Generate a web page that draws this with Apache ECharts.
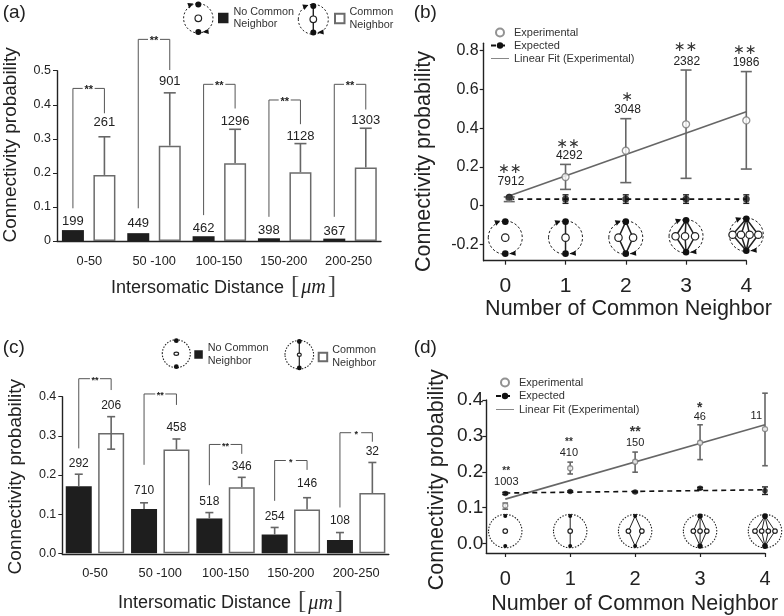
<!DOCTYPE html>
<html><head><meta charset="utf-8">
<style>html,body{margin:0;padding:0;background:#fff}#c{width:784px;height:616px}</style>
<script src="https://cdn.jsdelivr.net/npm/echarts@6/dist/echarts.min.js"></script>
</head><body><div id="c"></div>
<script>
// ---------- data ----------
const distanceBins = ['0-50','50 -100','100-150','150-200','200-250'];
const a_noCommon = [0.032,0.023,0.014,0.008,0.007];
const a_common = [0.194,0.280,0.228,0.202,0.216];
const a_commonErrTop = [0.306,0.435,0.328,0.286,0.331];
const a_noCommonN = ['199','449','462','398','367'];
const a_commonN = ['261','901','1296','1128','1303'];
const a_noCommonNY = [0.057,0.052,0.036,0.031,0.029];
const a_commonNY = [0.348,0.468,0.352,0.308,0.353];
const a_bracketTop = [0.448,0.592,0.460,0.414,0.460];
const a_bracketLeft = [0.096,0.096,0.076,0.071,0.071];
const a_bracketRight = [0.375,0.502,0.389,0.343,0.386];
const a_sig = ['**','**','**','**','**'];
const a_yTicks = [0,0.1,0.2,0.3,0.4,0.5];

const c_noCommon = [0.171,0.113,0.089,0.048,0.034];
const c_common = [0.307,0.265,0.169,0.112,0.154];
const c_noCommonErrTop = [0.202,0.129,0.104,0.066,0.053];
const c_commonErrTop = [0.349,0.292,0.194,0.142,0.232];
const c_commonErrLow = [0.266,null,null,null,null];
const c_noCommonN = ['292','710','518','254','108'];
const c_commonN = ['206','458','346','146','32'];
const c_noCommonNY = [0.230,0.159,0.132,0.094,0.083];
const c_commonNY = [0.377,0.321,0.220,0.179,0.259];
const c_bracketTop = [0.446,0.407,0.278,0.237,0.308];
const c_bracketLeft = [0.268,0.226,0.174,0.134,0.117];
const c_bracketRight = [0.417,0.379,0.254,0.213,0.285];
const c_sig = ['**','**','**','*','*'];
const c_yTicks = [0,0.1,0.2,0.3,0.4];

const neighbors = [0,1,2,3,4];
const b_experimental = [0.040,0.148,0.284,0.420,0.440];
const b_experimentalX = [0.066,1,2,3,4];
const b_expErrTop = [0.045,0.213,0.449,0.700,0.692];
const b_expErrLow = [0.021,0.084,0.119,0.141,0.189];
const b_expected = [0.043,0.034,0.034,0.034,0.034];
const b_expectedX = [0.066,1,2,3,4];
const b_expectedErr = [0,0.022,0.022,0.022,0.022];
const b_expectedLineX = [0.066,4];
const b_expectedLineY = [0.034,0.034];
const b_fitX = [0,4];
const b_fitY = [0.043,0.485];
const b_n = ['7912','4292','3048','2382','1986'];
const b_nY = [0.124,0.256,0.494,0.744,0.738];
const b_sig = ['∗∗','∗∗','∗','∗∗','∗∗'];
const b_yTicks = [-0.2,0,0.2,0.4,0.6,0.8];
const b_motifY = [-0.165,-0.165,-0.165,-0.158,-0.15];

const d_experimental = [0.106,0.210,0.228,0.281,0.319];
const d_experimentalX = [0,1,2,3,4];
const d_expErrTop = [0.113,0.227,0.255,0.331,0.419];
const d_expErrLow = [0.096,0.194,0.199,0.234,0.217];
const d_expected = [0.140,0.145,0.144,0.154,0.147];
const d_expectedErrTop = [0.143,0.147,0.146,0.157,0.158];
const d_expectedErrLow = [0.137,0.143,0.142,0.151,0.137];
const d_expectedLineX = [0,4];
const d_expectedLineY = [0.141,0.150];
const d_fitX = [0,4];
const d_fitY = [0.124,0.331];
const d_n = ['1003','410','150','46','11'];
const d_nY = [0.171,0.253,0.281,0.352,0.356];
const d_sig = ['**','**','**','*',''];
const d_yTicks = [0,0.1,0.2,0.3,0.4];
const d_motifY = [0.035,0.035,0.035,0.035,0.035];

// ---------- helpers ----------
const SANS = '"Liberation Sans", Arial, sans-serif';
const NARROW = '"Liberation Sans Narrow", "Liberation Sans", sans-serif';
const INK = '#222', GREY = '#666';
const option = {
  backgroundColor:'#fff', animation:false,
  textStyle:{fontFamily:SANS,color:INK},
  title:[], grid:[], xAxis:[], yAxis:[], legend:[], series:[], graphic:{elements:[]}
};
function txt(text,x,y,font,fill,extra){
  return {type:'text',silent:true,style:Object.assign({text,x,y,font,fill:fill||INK,align:'center',verticalAlign:'middle'},extra||{})};
}
function seg(x1,y1,x2,y2,stroke,lw){
  return {type:'line',silent:true,shape:{x1,y1,x2,y2},style:{stroke,lineWidth:lw,fill:null}};
}
function errorGlyph(x,yTop,yLow,yBase,cap,stroke,lw){
  const kids=[seg(x,yTop,x,yBase,stroke,lw),seg(x-cap,yTop,x+cap,yTop,stroke,lw)];
  if(yLow!=null) kids.push(seg(x-cap,yLow,x+cap,yLow,stroke,lw));
  return kids;
}
function motif(n,cx,cy,o){
  const kids=[];
  kids.push({type:'ellipse',silent:true,shape:{cx,cy,rx:o.rx||o.r,ry:o.r},style:{fill:null,stroke:INK,lineWidth:o.ringW||1,lineDash:o.dash}});
  const top=cy-o.h, bot=cy+o.h;
  const spread=(o.spread&&o.spread[n])||[0];
  if(n>0) spread.forEach(dx=>{
    kids.push({type:'polyline',silent:true,shape:{points:[[cx,top],[cx+dx,cy],[cx,bot]]},style:{fill:null,stroke:INK,lineWidth:o.lw}});
  });
  spread.forEach(dx=>{
    kids.push({type:'ellipse',silent:true,shape:{cx:cx+dx,cy,rx:o.open,ry:o.openY||o.open},style:{fill:'#fff',stroke:INK,lineWidth:o.openW||1.2}});
  });
  const bk=(o.black&&o.black[n])||o.blackR;
  kids.push({type:'circle',silent:true,shape:{cx,cy:top,r:bk},style:{fill:'#111'}});
  kids.push({type:'circle',silent:true,shape:{cx,cy:bot,r:bk},style:{fill:'#111'}});
  if(o.arrows){
    kids.push({type:'polygon',silent:true,shape:{points:[[cx-5,top-1],[cx-11,top-1.5],[cx-9,top+4]]},style:{fill:'#111'}});
    kids.push({type:'polygon',silent:true,shape:{points:[[cx+4,bot],[cx+10,bot-3],[cx+10.5,bot+2]]},style:{fill:'#111'}});
  }
  return kids;
}
function custom(gridIdx,rows,render,z){
  return {type:'custom',xAxisIndex:gridIdx,yAxisIndex:gridIdx,coordinateSystem:'cartesian2d',z:z||4,silent:true,clip:false,
    encode:{x:0,y:1},data:rows,renderItem:render};
}
// rotated axis name: positive shift moves it up, negative moves it down
function namePadding(shift){ return shift>=0 ? [0,0,0,shift] : [0,-shift,0,0]; }

function barPanel(p){
  const v=option.grid.length, q=v+1;
  const H=p.height, W=p.width;
  option.grid.push({left:p.left,top:p.top,width:W,height:H,containLabel:false});
  option.grid.push({left:p.left+p.shift,top:p.top,width:W,height:H,containLabel:false});
  option.xAxis.push({gridIndex:v,type:'category',data:distanceBins,boundaryGap:true,offset:p.axisDrop||0,
    axisLine:{lineStyle:{color:INK,width:1.4},onZero:false},axisTick:{length:p.tick,lineStyle:{color:'#444',width:1}},
    axisLabel:{fontSize:p.xFont,color:INK,margin:p.xMargin,interval:0},
    name:'Intersomatic Distance {b|[}{m|μm}{b|]}',nameLocation:'middle',nameGap:p.nameGap,
    nameTextStyle:{fontSize:18,color:INK,padding:[0,0,0,p.namePad],
      rich:{b:{fontFamily:'"Liberation Serif",serif',fontSize:25,color:'#444',padding:[0,2,3,2]},m:{fontFamily:'"Liberation Serif",serif',fontStyle:'italic',fontSize:20,color:INK}}},
    splitLine:{show:false}});
  option.yAxis.push({gridIndex:v,type:'value',min:0,max:p.max,
    axisLine:{show:true,onZero:false,lineStyle:{color:INK,width:1.4}},axisTick:{show:true,length:4,customValues:p.ticks,lineStyle:{color:INK,width:1}},
    axisLabel:{fontSize:12.5,color:INK,margin:p.yMargin,customValues:p.ticks,formatter:p.yFmt},splitLine:{show:false},
    name:'Connectivity probability',nameLocation:'middle',nameGap:p.yGap,
    nameTextStyle:{fontSize:p.yNameFont,color:INK,padding:namePadding(p.yNamePad)}});
  option.xAxis.push({gridIndex:q,type:'category',data:distanceBins,show:false,boundaryGap:true});
  option.yAxis.push({gridIndex:q,type:'value',min:0,max:p.max,show:false,splitLine:{show:false}});
  const bw=p.barW, gap=p.gapPx, dx=(bw+gap)/2;
  option.series.push({type:'bar',name:'No Common\nNeighbor',xAxisIndex:q,yAxisIndex:q,data:p.noCommon,barWidth:bw,barGap:(gap/bw*100)+'%',silent:true,
    itemStyle:{color:'#1e1e1e',borderColor:'#6b6b6b',borderWidth:0},z:2});
  option.series.push({type:'bar',name:'Common\nNeighbor',xAxisIndex:q,yAxisIndex:q,data:p.common,barWidth:bw,barGap:(gap/bw*100)+'%',silent:true,
    itemStyle:{color:'#fff',borderColor:'#6b6b6b',borderWidth:1.5},z:2});
  const rows=p.common.map((c,i)=>[i,c]);
  option.series.push(custom(q,rows,(params,api)=>{
    const i=params.dataIndex, cx=api.coord([i,0])[0], kids=[];
    const xB=cx-dx, xW=cx+dx, Y=val=>api.coord([i,val])[1];
    // error bars
    if(p.noCommonErrTop) kids.push(...errorGlyph(xB,Y(p.noCommonErrTop[i]),null,Y(p.noCommon[i]),p.cap,GREY,1.6));
    const low=p.commonErrLow?p.commonErrLow[i]:null;
    kids.push(...errorGlyph(xW,Y(p.commonErrTop[i]),low==null?null:Y(low),low==null?Y(p.common[i]):Y(low),p.cap,GREY,1.6));
    // counts
    kids.push(txt(p.noCommonN[i],xB,Y(p.noCommonNY[i]),p.countFont));
    kids.push(txt(p.commonN[i],xW,Y(p.commonNY[i]),p.countFont));
    // bracket
    const yt=Y(p.bracketTop[i]), mid=(xB+xW)/2, g=p.bracketGap;
    kids.push({type:'polyline',silent:true,shape:{points:[[xB,Y(p.bracketLeft[i])],[xB,yt],[mid-g,yt]]},style:{fill:null,stroke:'#555',lineWidth:1}});
    kids.push({type:'polyline',silent:true,shape:{points:[[mid+g,yt],[xW,yt],[xW,Y(p.bracketRight[i])]]},style:{fill:null,stroke:'#555',lineWidth:1}});
    kids.push(txt(p.sig[i],mid,yt+p.sigDrop,'bold '+p.sigFont+'px '+SANS));
    return {type:'group',children:kids};
  },5));
}

function linePanel(p){
  const v=option.grid.length;
  option.grid.push({left:p.left,top:p.top,width:p.width,height:p.height,containLabel:false});
  option.xAxis.push({gridIndex:v,type:'value',min:p.xMin,max:4,
    axisLine:{onZero:false,lineStyle:{color:INK,width:1.4}},axisTick:{length:4,customValues:neighbors,lineStyle:{color:INK,width:1.2}},
    axisLabel:{fontSize:p.xFont,color:INK,margin:p.xMargin,customValues:neighbors,formatter:String,hideOverlap:false},splitLine:{show:false},
    name:'Number of Common Neighbor',nameLocation:'middle',nameGap:p.nameGap,
    nameTextStyle:{fontSize:21.5,color:INK,padding:[0,0,0,p.namePad]}});
  option.yAxis.push({gridIndex:v,type:'value',min:p.yMin,max:p.yMax,
    axisLine:{show:true,onZero:false,lineStyle:{color:INK,width:1.4}},axisTick:{show:true,length:4,customValues:p.ticks,lineStyle:{color:INK,width:1.2}},
    axisLabel:{fontSize:p.yFont,color:INK,margin:p.yMargin,customValues:p.ticks,formatter:p.yFmt},splitLine:{show:false},
    name:'Connectivity probability',nameLocation:'middle',nameGap:p.yGap,
    nameTextStyle:{fontSize:21.5,color:INK,padding:namePadding(p.yNamePad)}});
  // motifs behind everything
  option.series.push(custom(v,p.motifY.map((y,i)=>[i,y]),(params,api)=>{
    const i=params.dataIndex, c=api.coord([i,p.motifY[i]]);
    return {type:'group',children:motif(i,c[0],c[1],p.motif)};
  },1));
  // error bars of experimental
  option.series.push(custom(v,p.exp.map((y,i)=>[p.expX[i],y]),(params,api)=>{
    const i=params.dataIndex, x=api.coord([p.expX[i],0])[0], Y=w=>api.coord([i,w])[1];
    const top=Y(p.errTop[i]), low=Y(p.errLow[i]);
    const kids=[seg(x,top,x,low,GREY,1.6),seg(x-p.cap,top,x+p.cap,top,GREY,1.6),seg(x-p.cap,low,x+p.cap,low,GREY,1.6)];
    return {type:'group',children:kids};
  },2));
  // error bars of expected
  option.series.push(custom(v,p.expd.map((y,i)=>[p.expdX[i],y]),(params,api)=>{
    const i=params.dataIndex, x=api.coord([p.expdX[i],0])[0], Y=w=>api.coord([i,w])[1];
    const top=Y(p.expdTop[i]), low=Y(p.expdLow[i]);
    return {type:'group',children:[seg(x,top,x,low,'#222',1.4),seg(x-3,top,x+3,top,'#222',1.4),seg(x-3,low,x+3,low,'#222',1.4)]};
  },2));
  option.series.push({type:'line',name:'Linear Fit (Experimental)',xAxisIndex:v,yAxisIndex:v,data:p.fitX.map((x,i)=>[x,p.fitY[i]]),
    showSymbol:false,symbol:'none',silent:true,lineStyle:{color:'#666',width:1.6},itemStyle:{color:'#666'},z:3});
  option.series.push({type:'line',name:'Expected',xAxisIndex:v,yAxisIndex:v,data:p.expdLineX.map((x,i)=>[x,p.expdLineY[i]]),symbol:'none',silent:true,
    lineStyle:{color:'#111',width:1.6,type:[5,4]},itemStyle:{color:'#111'},z:3});
  option.series.push({type:'scatter',name:'Experimental',xAxisIndex:v,yAxisIndex:v,data:p.exp.map((y,i)=>[p.expX[i],y]),symbol:'circle',symbolSize:p.ring,silent:true,
    itemStyle:{color:'#fff',borderColor:'#777',borderWidth:1.3},z:4});
  option.series.push({type:'scatter',name:'Expected',xAxisIndex:v,yAxisIndex:v,data:p.expd.map((y,i)=>[p.expdX[i],y]),symbol:'circle',symbolSize:p.dot,silent:true,
    itemStyle:{color:'#111'},z:5});
  // counts and significance
  option.series.push(custom(v,p.nY.map((y,i)=>[i,y]),(params,api)=>{
    const i=params.dataIndex, c=api.coord([i,p.nY[i]]), x=c[0]+p.nDx[i], kids=[txt(p.n[i],x,c[1],p.nFont,'#222')];
    if(p.sig[i]) kids.push(txt(p.sig[i],x+(p.sigDx?p.sigDx[i]:0),c[1]-p.sigUp[i],p.sigFont[i],'#333'));
    return {type:'group',children:kids};
  },6));
}

// ---------- panel (a) ----------
barPanel({left:54.3,top:70.7,width:326.7,height:170.3,shift:1.7,max:0.5,ticks:a_yTicks,tick:8,xFont:12.8,xMargin:14,yMargin:6,
  yFmt:v=>v===0?'0':v.toFixed(1),nameGap:33,namePad:11,yGap:37,yNameFont:19,yNamePad:22,
  barW:22,gapPx:9.5,cap:6,noCommon:a_noCommon,common:a_common,commonErrTop:a_commonErrTop,noCommonN:a_noCommonN,commonN:a_commonN,
  noCommonNY:a_noCommonNY,commonNY:a_commonNY,countFont:'13px '+SANS,bracketTop:a_bracketTop,bracketLeft:a_bracketLeft,bracketRight:a_bracketRight,
  sig:a_sig,bracketGap:6,sigDrop:2,sigFont:11});
// ---------- panel (c) ----------
barPanel({left:62.3,top:396.7,width:326.5,height:156.6,shift:0,axisDrop:1,max:0.4,ticks:c_yTicks,tick:7,xFont:12.8,xMargin:13,yMargin:6,
  yFmt:v=>v.toFixed(1),nameGap:35,namePad:12,yGap:37,yNameFont:19,yNamePad:-3.4,
  barW:26,gapPx:6.4,cap:4,noCommon:c_noCommon,common:c_common,noCommonErrTop:c_noCommonErrTop,commonErrTop:c_commonErrTop,commonErrLow:c_commonErrLow,
  noCommonN:c_noCommonN,commonN:c_commonN,noCommonNY:c_noCommonNY,commonNY:c_commonNY,countFont:'12px '+NARROW,
  bracketTop:c_bracketTop,bracketLeft:c_bracketLeft,bracketRight:c_bracketRight,sig:c_sig,bracketGap:5,sigDrop:2,sigFont:9});
// ---------- panel (b) ----------
linePanel({left:483.7,top:43.3,width:262.6,height:217.4,xMin:-0.358,yMin:-0.284,yMax:0.838,ticks:b_yTicks,
  yFmt:v=>v===0?'0':v.toFixed(1),xFont:21,xMargin:15,yFont:16,yMargin:5,nameGap:37,namePad:27,yGap:49,yNamePad:-19,
  exp:b_experimental,expX:b_experimentalX,errTop:b_expErrTop,errLow:b_expErrLow,expd:b_expected,expdX:b_expectedX,
  expdTop:b_expected.map((v,i)=>v+b_expectedErr[i]),expdLow:b_expected.map((v,i)=>v-b_expectedErr[i]),expdLineX:b_expectedLineX,expdLineY:b_expectedLineY,
  fitX:b_fitX,fitY:b_fitY,dot:7,ring:7,cap:5.5,n:b_n,nY:b_nY,nDx:[5.7,3.7,1.7,0.7,-0.3],sig:b_sig,sigUp:[12,12,13,14,12.5],
  sigDx:[-1,-1,0,-1,-1],sigFont:[0,1,2,3,4].map(()=>'14px "DejaVu Sans"'),nFont:'12px '+SANS,motifY:b_motifY,
  motif:{r:16.7,h:16,rx:17,lw:1.5,open:3.7,blackR:3.3,dash:[2.5,2],arrows:true,
    spread:{0:[0],1:[0],2:[-7.3,7.3],3:[-10.5,-1,9],4:[-13.7,-5.3,3.3,12]}}});
// ---------- panel (d) ----------
linePanel({left:486.3,top:400,width:278.7,height:153.3,xMin:-0.292,yMin:-0.026,yMax:0.4,ticks:d_yTicks,
  yFmt:v=>v.toFixed(1),xFont:20,xMargin:16,yFont:19,yMargin:3,nameGap:40,namePad:18,yGap:38,yNamePad:-6.6,
  exp:d_experimental,expX:d_experimentalX,errTop:d_expErrTop,errLow:d_expErrLow,expd:d_expected,expdX:neighbors,expdTop:d_expectedErrTop,expdLow:d_expectedErrLow,
  expdLineX:d_expectedLineX,expdLineY:d_expectedLineY,fitX:d_fitX,fitY:d_fitY,dot:5.5,ring:5,cap:2.8,n:d_n,nY:d_nY,nDx:[1,-1.3,0,-0.3,-8.7],sig:d_sig,sigUp:[11,11,11,9,0],
  sigFont:['bold 10px '+SANS,'bold 10px '+SANS,'bold 14px '+SANS,'bold 14px '+SANS,'bold 10px '+SANS],nFont:'11px '+SANS,motifY:d_motifY,
  motif:{r:16.7,h:15,lw:1,open:2.3,blackR:2,dash:[1.5,1.5],ringW:1.1,black:{3:2.7,4:2.9},
    spread:{0:[0],1:[0],2:[-6.7,6.7],3:[-6.7,0,6.7],4:[-10,-3.3,3.3,10]}}});

// ---------- panel letters ----------
[['(a)',2.7,3],['(b)',413.7,3],['(c)',2.7,338],['(d)',413.7,338]].forEach(t=>{
  option.title.push({text:t[0],left:t[1],top:t[2],padding:0,textStyle:{fontSize:19,fontWeight:'normal',color:'#222',fontFamily:SANS}});
});
// ---------- legends ----------
function barLegend(name,left,top,size,lh){
  return {data:[{name,icon:'rect'}],left,top,orient:'horizontal',itemWidth:size,itemHeight:size,selectedMode:false,padding:0,
    textStyle:{fontSize:10.8,color:'#333',lineHeight:lh,fontFamily:SANS}};
}
option.legend.push(barLegend('No Common\nNeighbor',218,5.5,10.5,12.5));
option.legend.push(barLegend('Common\nNeighbor',334,6,9.5,12.5));
option.legend.push(barLegend('No Common\nNeighbor',194.3,341.5,8.5,13));
option.legend.push(barLegend('Common\nNeighbor',317.7,344,8.5,13));
function lineLegend(left,top,gap){
  return {data:['Experimental','Expected',{name:'Linear Fit (Experimental)',itemStyle:{color:'transparent',borderWidth:0},lineStyle:{color:'#888',width:1}}],
    left,top,orient:'vertical',itemWidth:18,itemHeight:8,itemGap:gap,symbolSize:6.5,
    selectedMode:false,padding:0,textStyle:{fontSize:11,color:'#333',fontFamily:SANS}};
}
option.legend.push(lineLegend(490,27,2));
option.legend.push(lineLegend(495,377,2.5));
// ---------- legend motifs ----------
const gfx=option.graphic.elements;
gfx.push({type:'group',children:motif(0,198.3,18.3,{r:14.7,h:13.8,lw:1.4,open:3.3,blackR:3,dash:[2,2],arrows:true,spread:{0:[0]}})});
gfx.push({type:'group',children:motif(1,313.3,19.3,{r:15,h:13.3,lw:1.4,open:3.3,blackR:3,dash:[2,2],arrows:true,spread:{1:[0]}})});
gfx.push({type:'group',children:motif(0,176.3,353.7,{r:14,h:13,lw:1.2,open:2.3,openY:1.6,blackR:2.4,dash:[1.5,1.5],ringW:1.1,spread:{0:[0]}})});
gfx.push({type:'group',children:motif(1,299.3,354.7,{r:14.3,h:13.2,lw:1.2,open:2,openY:1.6,blackR:2.4,dash:[1.5,1.5],ringW:1.1,spread:{1:[0]}})});

echarts.init(document.getElementById('c'),null,{renderer:'canvas'}).setOption(option);
</script></body></html>
